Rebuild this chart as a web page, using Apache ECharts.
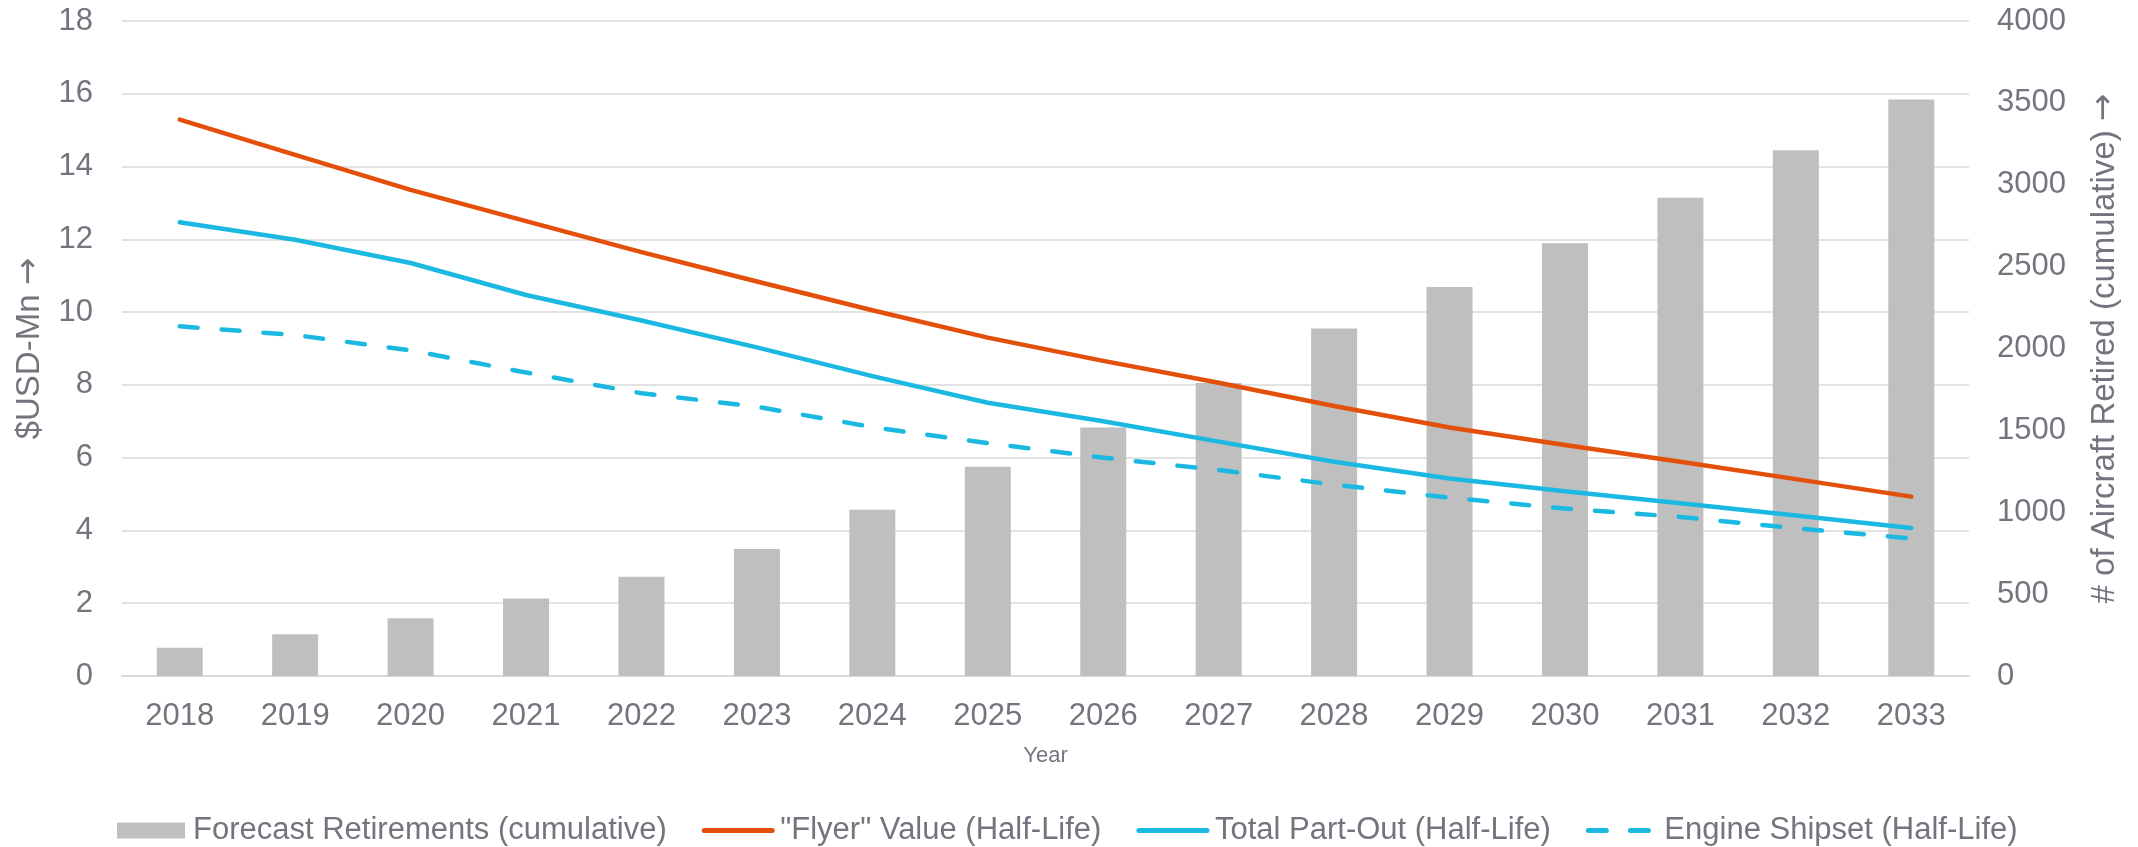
<!DOCTYPE html>
<html>
<head>
<meta charset="utf-8">
<title>Aircraft retirements and values</title>
<script src="https://cdn.jsdelivr.net/npm/echarts@6/dist/echarts.min.js"></script>
<style>
  html, body { margin: 0; padding: 0; background: #ffffff; }
  #chart { width: 2138px; height: 847px; }
</style>
</head>
<body>
<div id="chart"></div>
<script>
// Years on the category axis
const years = ['2018', '2019', '2020', '2021', '2022', '2023', '2024', '2025',
               '2026', '2027', '2028', '2029', '2030', '2031', '2032', '2033'];

// Cumulative forecast retirements (# of aircraft, right axis)
const retirements = [172, 255, 352, 473, 606, 776, 1016, 1278,
                     1517, 1789, 2122, 2375, 2642, 2920, 3210, 3520];

// Values in $USD-Mn (left axis)
const flyerValue = [15.29, 14.32, 13.36, 12.50, 11.65, 10.84, 10.05, 9.30,
                    8.66, 8.06, 7.42, 6.83, 6.35, 5.89, 5.41, 4.93];
const totalPartOut = [12.47, 11.99, 11.35, 10.47, 9.77, 9.03, 8.24, 7.51,
                      7.00, 6.44, 5.89, 5.43, 5.08, 4.75, 4.41, 4.07];
const engineShipset = [9.61, 9.37, 8.95, 8.34, 7.77, 7.40, 6.84, 6.40,
                       6.00, 5.66, 5.26, 4.90, 4.60, 4.37, 4.06, 3.78];

// Axis ranges
const leftAxis = { min: 0, max: 18, interval: 2 };
const rightAxis = { min: 0, max: 4000, interval: 500 };

const seriesNames = ['Forecast Retirements (cumulative)', '"Flyer" Value (Half-Life)',
                     'Total Part-Out (Half-Life)', 'Engine Shipset (Half-Life)'];

const FONT = '"Liberation Sans", Arial, sans-serif';
const ARROW_FONT = '"DejaVu Sans", sans-serif';
const TEXT = '#75737e';
const GRID_LINE = '#d9d9d9';
const ORANGE = '#e2500b';
const BLUE = '#1bb9e2';
const GREY_BAR = '#bfbfbf';

// Axis titles end with an up-arrow drawn in a font that has a full-size glyph
const axisTitleStyle = {
  fontFamily: FONT, fontSize: 33, color: TEXT,
  rich: { arrow: { fontFamily: ARROW_FONT, fontSize: 33, color: TEXT } }
};

// Line legend entries: a thick stroke with the marker hidden
const lineLegendItem = (name) => ({
  name: name,
  itemStyle: { opacity: 0 },
  lineStyle: { width: 5, cap: 'round' }
});

const chart = echarts.init(document.getElementById('chart'), null, { renderer: 'canvas' });

chart.setOption({
  animation: false,
  backgroundColor: '#ffffff',
  textStyle: { fontFamily: FONT, color: TEXT },
  grid: { left: 122, right: 169, top: 21, bottom: 171 },
  legend: {
    left: 112,
    top: 810,
    itemWidth: 68,
    itemHeight: 16,
    itemGap: 35,
    lineStyle: { width: 5 },
    textStyle: { fontFamily: FONT, fontSize: 31, color: TEXT, padding: [0, 0, 0, 3] },
    data: [
      { name: seriesNames[0], icon: 'rect' },
      lineLegendItem(seriesNames[1]),
      lineLegendItem(seriesNames[2]),
      lineLegendItem(seriesNames[3])
    ]
  },
  xAxis: {
    type: 'category',
    data: years,
    name: 'Year',
    nameLocation: 'middle',
    nameGap: 69,
    nameTextStyle: { fontFamily: FONT, fontSize: 22, color: TEXT },
    axisLine: { show: true, lineStyle: { color: GRID_LINE, width: 2 } },
    axisTick: { show: false },
    axisLabel: { fontFamily: FONT, fontSize: 31, color: TEXT, margin: 25 },
    splitLine: { show: false }
  },
  yAxis: [
    {
      type: 'value',
      position: 'left',
      min: leftAxis.min,
      max: leftAxis.max,
      interval: leftAxis.interval,
      name: '$USD-Mn {arrow|\u2192}',
      nameLocation: 'middle',
      nameRotate: 90,
      nameGap: 76,
      nameTextStyle: axisTitleStyle,
      axisLine: { show: false },
      axisTick: { show: false },
      axisLabel: { fontFamily: FONT, fontSize: 31, color: TEXT, margin: 29 },
      splitLine: { show: true, lineStyle: { color: GRID_LINE, width: 1.5 } }
    },
    {
      type: 'value',
      position: 'right',
      min: rightAxis.min,
      max: rightAxis.max,
      interval: rightAxis.interval,
      name: '# of Aircraft Retired (cumulative) {arrow|\u2192}',
      nameLocation: 'middle',
      nameRotate: 90,
      nameGap: 119,
      nameTextStyle: axisTitleStyle,
      axisLine: { show: false },
      axisTick: { show: false },
      axisLabel: {
        fontFamily: FONT, fontSize: 31, color: TEXT, margin: 28,
        formatter: (v) => String(v)
      },
      splitLine: { show: false }
    }
  ],
  series: [
    {
      name: seriesNames[0],
      type: 'bar',
      yAxisIndex: 1,
      data: retirements,
      barWidth: 46,
      itemStyle: { color: GREY_BAR },
      z: 1
    },
    {
      name: seriesNames[1],
      type: 'line',
      yAxisIndex: 0,
      data: flyerValue,
      symbol: 'none',
      itemStyle: { color: ORANGE },
      lineStyle: { color: ORANGE, width: 4.5, cap: 'round', join: 'round' },
      z: 3
    },
    {
      name: seriesNames[2],
      type: 'line',
      yAxisIndex: 0,
      data: totalPartOut,
      symbol: 'none',
      itemStyle: { color: BLUE },
      lineStyle: { color: BLUE, width: 4.5, cap: 'round', join: 'round' },
      z: 3
    },
    {
      name: seriesNames[3],
      type: 'line',
      yAxisIndex: 0,
      data: engineShipset,
      symbol: 'none',
      itemStyle: { color: BLUE },
      lineStyle: { color: BLUE, width: 4.5, type: [18, 24], cap: 'round', join: 'round' },
      z: 3
    }
  ]
});
</script>
</body>
</html>
